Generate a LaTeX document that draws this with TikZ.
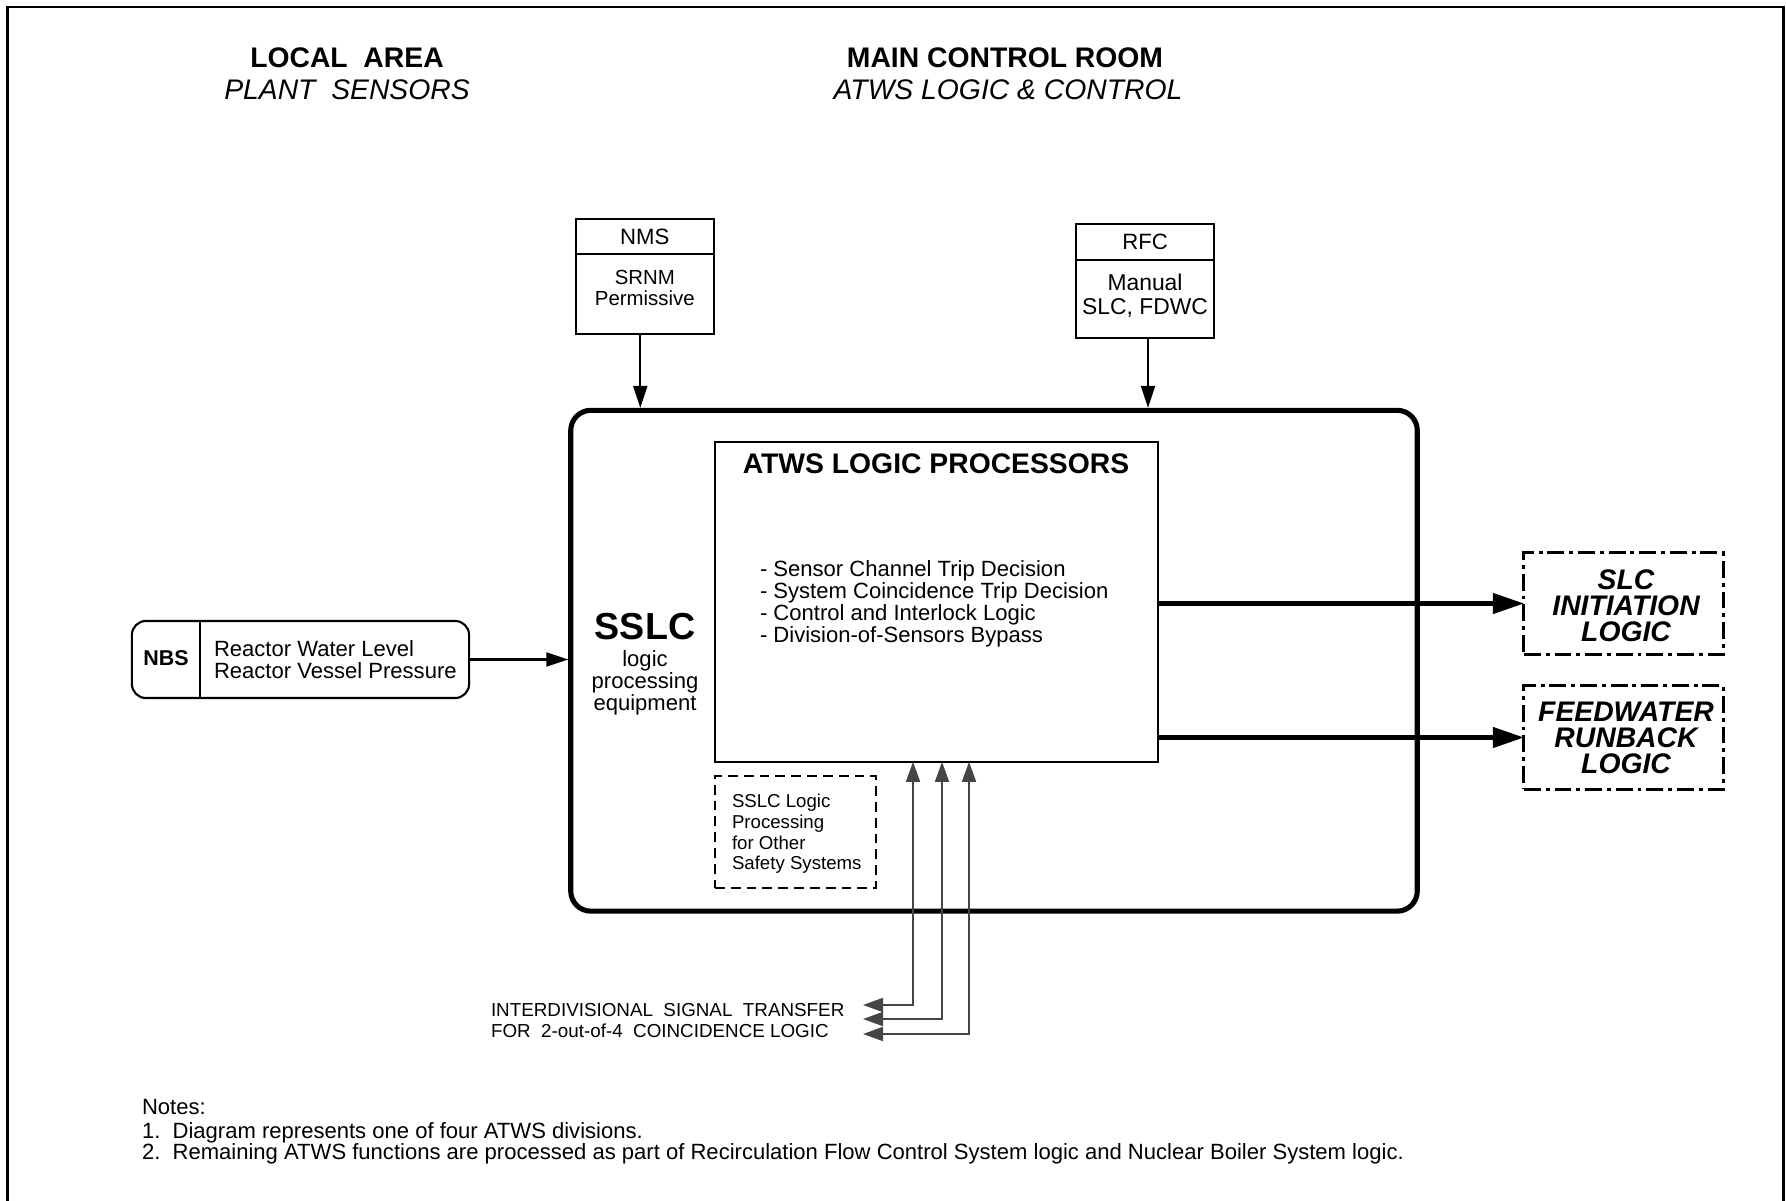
\documentclass[tikz,border=0pt]{standalone}
\usepackage{fontspec}
\setmainfont{Liberation Sans}
\usetikzlibrary{arrows.meta,calc}
\begin{document}
\begin{tikzpicture}[x=0.01cm,y=-0.01cm,
  every node/.style={inner sep=0pt, outer sep=0pt},
  ftxt/.style={font=\fontsize{6.27pt}{6.27pt}\selectfont},
  fsmall/.style={font=\fontsize{5.3pt}{5.9pt}\selectfont},
  ttlb/.style={font=\bfseries\fontsize{8.05pt}{8pt}\selectfont},
  ttli/.style={font=\itshape\fontsize{8.05pt}{8pt}\selectfont},
  bigital/.style={font=\bfseries\itshape\fontsize{8.05pt}{7.4pt}\selectfont, align=center},
  plainbox/.style={draw, line width=0.6pt},
  dashdotbox/.style={draw, line width=0.85pt, dash pattern=on 4.8pt off 1.4pt on 1.1pt off 1.4pt},
  arr/.style={line width=0.6pt, -{Triangle[length=0.22cm,width=0.14cm]}},
  thickarr/.style={line width=1.2pt, -{Triangle[length=0.31cm,width=0.2cm]}},
  grayarr/.style={draw=black!73, line width=0.5pt, {Triangle[length=0.2cm,width=0.14cm]}-{Triangle[length=0.2cm,width=0.14cm]}, black!73}
]
\useasboundingbox (0,0) rectangle (1786,1201);
% outer frame
\draw[line width=0.75pt] (7.5,1201) -- (7.5,7) -- (1783.5,7) -- (1783.5,1201);

% titles
\node[ttlb, anchor=base] (la) at (347,67.6) {LOCAL\ \ AREA};
\node[ttli, anchor=base] (ps) at (347,100) {PLANT\ \ SENSORS};
\node[ttlb, anchor=base] (mcr) at (1005,67.6) {MAIN CONTROL ROOM};
\node[ttli, anchor=base] (alc) at (1008,100) {ATWS LOGIC \& CONTROL};

% NMS box
\node[plainbox, minimum width=1.384cm, minimum height=1.15cm] (nms) at (644.8,276.5) {};
\draw[line width=0.6pt] ($(nms.north west)+(0,35)$) -- ($(nms.north east)+(0,35)$);
\node[font=\fontsize{6.3pt}{6.3pt}\selectfont] (nmsl) at (644.8,236.5) {NMS};
\node[font=\fontsize{5.8pt}{5.7pt}\selectfont, align=center] (srnm) at (644.8,288) {SRNM\\Permissive};

% RFC box
\node[plainbox, minimum width=1.38cm, minimum height=1.14cm] (rfc) at (1145,281) {};
\draw[line width=0.6pt] ($(rfc.north west)+(0,36)$) -- ($(rfc.north east)+(0,36)$);
\node[font=\fontsize{6.3pt}{6.3pt}\selectfont] (rfcl) at (1145,242) {RFC};
\node[font=\fontsize{6.5pt}{6.8pt}\selectfont, align=center] (man) at (1145,295.5) {Manual\\SLC, FDWC};

% big SSLC box
\node[draw, line width=1.45pt, rounded corners=0.2cm, minimum width=8.46cm, minimum height=5.005cm] (sslc) at (994,660.75) {};

% ATWS box
\node[draw, line width=0.65pt, minimum width=4.43cm, minimum height=3.2cm] (atws) at (936.6,601.8) {};
\node[ttlb] (atwst) at (936,464) {ATWS LOGIC PROCESSORS};
\node[ftxt, align=left, anchor=west] (bul) at (760,604) {- Sensor Channel Trip Decision\\- System Coincidence Trip Decision\\- Control and Interlock Logic\\- Division-of-Sensors Bypass};

% SSLC label
\node[font=\bfseries\fontsize{10.7pt}{10.7pt}\selectfont] (sslct) at (645,627) {SSLC};
\node[ftxt, align=center] (lpe) at (645,683) {logic\\processing\\equipment};

% other safety systems box
\node[draw, line width=0.45pt, dash pattern=on 2.8pt off 1.7pt, minimum width=1.61cm, minimum height=1.12cm] (oth) at (795.5,832) {};
\node[fsmall, align=left, anchor=west] (otht) at (732,834) {SSLC Logic\\Processing\\for Other\\Safety Systems};

% NBS box
\node[draw, line width=0.6pt, rounded corners=0.14cm, minimum width=3.37cm, minimum height=0.77cm] (nbs) at (300.5,659.5) {};
\draw[line width=0.6pt] ($(nbs.north west)+(68.5,0)$) -- ($(nbs.south west)+(68.5,0)$);
\node[font=\bfseries\fontsize{6.1pt}{6.1pt}\selectfont] (nbsl) at (166,658) {NBS};
\node[ftxt, align=left, anchor=west] (rwl) at (214,660) {Reactor Water Level\\Reactor Vessel Pressure};

% output boxes
\node[dashdotbox, minimum width=1.99cm, minimum height=1.01cm] (slc) at (1623.5,603.5) {};
\node[bigital] (slct) at (1626,605.5) {SLC\\INITIATION\\LOGIC};
\node[dashdotbox, minimum width=1.99cm, minimum height=1.03cm] (fw) at (1623.5,737.5) {};
\node[bigital] (fwt) at (1626,737.5) {FEEDWATER\\RUNBACK\\LOGIC};

% arrows
\coordinate (nmsout) at ([xshift=-0.045cm]nms.south);
\draw[arr, shorten >=0.7pt] (nmsout) -- (nmsout |- sslc.north);
\coordinate (rfcout) at ([xshift=0.03cm]rfc.south);
\draw[arr, shorten >=0.7pt] (rfcout) -- (rfcout |- sslc.north);
\draw[arr, shorten >=0.7pt] (nbs.east) -- (sslc.west |- nbs.east);
\draw[thickarr] (atws.east |- slc.west) -- (slc.west);
\draw[thickarr] (atws.east |- fw.west) -- (fw.west);

% interdivisional arrows
\coordinate (g1) at (863,1005);
\coordinate (g1v) at (913,1005);
\coordinate (g2) at (863,1019);
\coordinate (g2v) at (942,1019);
\coordinate (g3) at (863,1034);
\coordinate (g3v) at (969,1034);
\draw[grayarr] (g1v |- atws.south) -- (g1v) -- (g1);
\draw[grayarr] (g2v |- atws.south) -- (g2v) -- (g2);
\draw[grayarr] (g3v |- atws.south) -- (g3v) -- (g3);
\node[font=\fontsize{5.35pt}{6.1pt}\selectfont, align=left, anchor=west] (idt) at (491,1020.5) {INTERDIVISIONAL\ \ SIGNAL\ \ TRANSFER\\FOR\ \ 2-out-of-4\ \ COINCIDENCE LOGIC};

% notes
\node[ftxt, anchor=base west] (n0) at (142,1114) {Notes:};
\node[ftxt, anchor=base west] (n1) at (142,1138) {1.\ \ Diagram represents one of four ATWS divisions.};
\node[ftxt, anchor=base west] (n2) at (142,1159.5) {2.\ \ Remaining ATWS functions are processed as part of Recirculation Flow Control System logic and Nuclear Boiler System logic.};
\end{tikzpicture}
\end{document}
